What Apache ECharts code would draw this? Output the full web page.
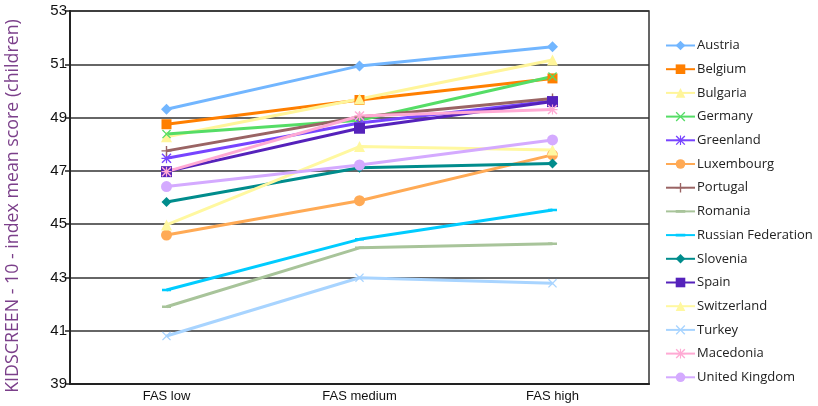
<!DOCTYPE html>
<html><head><meta charset="utf-8">
<script src="https://cdn.jsdelivr.net/npm/echarts@6/dist/echarts.min.js"></script>
<style>html,body{margin:0;padding:0;background:#fff}#c{width:818px;height:406px}</style>
</head><body><div id="c"></div>
<script>
const categories = ['FAS low', 'FAS medium', 'FAS high'];
const yTicks = [39, 41, 43, 45, 47, 49, 51, 53];
const yTitle = 'KIDSCREEN - 10 - index mean score (children)';
const austria = [49.31, 50.94, 51.66];
const belgium = [48.75, 49.66, 50.47];
const bulgaria = [48.28, 49.7, 51.16];
const germany = [48.38, 48.9, 50.54];
const greenland = [47.47, 48.8, 49.62];
const luxembourg = [44.59, 45.88, 47.6];
const portugal = [47.75, 49.02, 49.72];
const romania = [41.9, 44.11, 44.26];
const russia = [42.53, 44.43, 45.53];
const slovenia = [45.83, 47.12, 47.28];
const spain = [46.97, 48.6, 49.6];
const switzerland = [44.97, 47.91, 47.78];
const turkey = [40.8, 42.99, 42.78];
const macedonia = [46.97, 49.06, 49.3];
const uk = [46.41, 47.22, 48.16];

const X = 'path://M0,1L1,0L5,4L9,0L10,1L6,5L10,9L9,10L5,6L1,10L0,9L4,5Z';
const STAR = 'path://M0,1L1,0L4.4,3.4V0H5.6V3.4L9,0L10,1L6.6,4.4H10V5.6H6.6L10,9L9,10L5.6,6.6V10H4.4V6.6L1,10L0,9L3.4,5.6H0V4.4H3.4Z';
const PLUS = 'path://M4.3,0H5.7V4.3H10V5.7H5.7V10H4.3V5.7H0V4.3H4.3Z';
const DASH = 'path://M0,0H0.01V0.01H0Z M0,3.6H10V6.4H0Z M9.99,9.99H10V10H9.99Z';

const defs = [
  ['Austria', austria, '#72b6ff', 'diamond', 11],
  ['Belgium', belgium, '#ff7f00', 'rect', 10],
  ['Bulgaria', bulgaria, '#fff59a', 'triangle', 11],
  ['Germany', germany, '#55dd66', X, 9],
  ['Greenland', greenland, '#7744ff', STAR, 10],
  ['Luxembourg', luxembourg, '#ffaa55', 'circle', 11],
  ['Portugal', portugal, '#9a6464', PLUS, 10],
  ['Romania', romania, '#a8c49a', DASH, 9],
  ['Russian Federation', russia, '#00ccff', DASH, 9],
  ['Slovenia', slovenia, '#008c8c', 'diamond', 10],
  ['Spain', spain, '#5522bb', 'rect', 11],
  ['Switzerland', switzerland, '#fff8a0', 'triangle', 11],
  ['Turkey', turkey, '#a8d4ff', X, 9],
  ['Macedonia', macedonia, '#ffaad4', STAR, 10],
  ['United Kingdom', uk, '#d4aaff', 'circle', 11]
];

const chart = echarts.init(document.getElementById('c'), null, {renderer: 'canvas'});
chart.setOption({
  animation: false,
  grid: {left: 70, right: 169, top: 11, bottom: 22, show: true, borderColor: '#333', borderWidth: 1.5},
  legend: {
    orient: 'vertical', left: 660, top: 34, itemWidth: 29, itemHeight: 12, itemGap: 10.7,
    textStyle: {fontFamily: 'Open Sans', fontSize: 13, color: '#222', padding: [0, 0, 0, -3]},
    data: defs.map(d => d[0])
  },
  graphic: [{
    type: 'text', x: 13, y: 206, rotation: Math.PI / 2,
    style: {text: yTitle, font: '17.8px "Open Sans"', fill: '#7b3f8a', align: 'center', verticalAlign: 'middle'}
  }],
  xAxis: {
    type: 'category', data: categories, boundaryGap: true,
    axisLine: {lineStyle: {color: '#222', width: 2}},
    axisTick: {show: false},
    axisLabel: {fontFamily: 'Liberation Sans', fontSize: 13, color: '#111', margin: 6}
  },
  yAxis: {
    type: 'value', min: yTicks[0], max: yTicks[yTicks.length - 1], interval: 2,
    axisLine: {show: true, lineStyle: {color: '#222', width: 2}},
    axisTick: {show: true, length: 5, lineStyle: {color: '#222', width: 1.5}},
    axisLabel: {fontFamily: 'Liberation Sans', fontSize: 15, color: '#111', margin: 3},
    splitLine: {lineStyle: {color: '#333', width: 1.5}}
  },
  series: defs.map(d => ({
    name: d[0], type: 'line', data: d[1],
    symbol: d[3], symbolSize: d[4],
    lineStyle: {color: d[2], width: 3},
    itemStyle: {color: d[2]}
  }))
});
</script></body></html>
